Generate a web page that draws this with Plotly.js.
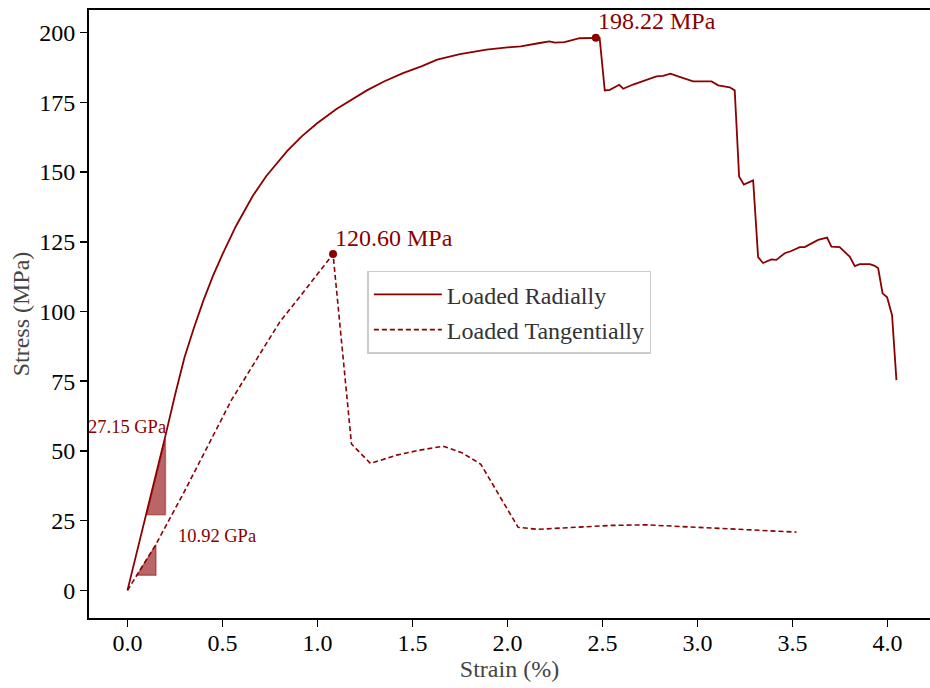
<!DOCTYPE html>
<html>
<head>
<meta charset="utf-8">
<script src="https://cdn.plot.ly/plotly-3.0.1.min.js"></script>
<style>html,body{margin:0;padding:0;background:#fff;}#chart{width:930px;height:688px;}</style>
</head>
<body>
<div id="chart"></div>
<script>
// ---- data (strain in %, stress in MPa) ----
const strainRadial = [0, 0.05, 0.10, 0.15, 0.20, 0.25, 0.30, 0.35, 0.40, 0.45, 0.50, 0.57, 0.66, 0.73, 0.84, 0.92, 1.00, 1.10, 1.26, 1.35, 1.45, 1.55, 1.63, 1.75, 1.89, 2.00, 2.07, 2.17, 2.22, 2.25, 2.30, 2.38, 2.465, 2.485, 2.512, 2.539, 2.588, 2.609, 2.661, 2.731, 2.784, 2.819, 2.858, 2.898, 2.977, 3.074, 3.109, 3.17, 3.196, 3.219, 3.244, 3.293, 3.319, 3.345, 3.389, 3.415, 3.459, 3.494, 3.538, 3.564, 3.599, 3.635, 3.682, 3.705, 3.748, 3.780, 3.801, 3.828, 3.854, 3.907, 3.933, 3.951, 3.974, 3.998, 4.024, 4.047];
const stressRadial = [0, 13.6, 27.3, 41.3, 55.5, 70, 83.5, 94.2, 104, 112.8, 120.5, 130.5, 141.5, 148.5, 157.5, 163, 167.6, 172.6, 179.3, 182.5, 185.5, 188, 190.3, 192.3, 193.9, 194.7, 195.1, 196.3, 196.9, 196.4, 196.6, 198.0, 198.22, 198.1, 179.3, 179.5, 181.3, 179.9, 181.4, 183.1, 184.3, 184.5, 185.3, 184.3, 182.5, 182.5, 181.1, 180.4, 179.3, 148.4, 145.5, 147.0, 119.5, 117.4, 118.7, 118.5, 120.9, 121.7, 123.1, 123.1, 124.5, 125.7, 126.5, 123.3, 123.1, 120.9, 119.7, 116.3, 117.0, 117.0, 116.4, 115.5, 106.5, 105.1, 98.7, 75.4];

const strainTangential = [0, 0.149, 0.30, 0.45, 0.547, 0.69, 0.802, 0.907, 1.03, 1.082, 1.179, 1.279, 1.416, 1.539, 1.661, 1.76, 1.86, 2.056, 2.16, 2.38, 2.55, 2.73, 2.91, 3.05, 3.26, 3.521];
const stressTangential = [0, 16.4, 35.5, 55.5, 68.2, 84, 96.3, 105.3, 116.1, 120.6, 52.5, 45.5, 48.5, 50.3, 51.7, 49.4, 45.2, 22.6, 21.9, 22.6, 23.3, 23.5, 22.9, 22.7, 21.8, 20.9];

const seriesNames = ["Loaded Radially", "Loaded Tangentially"];
const modulusRadial = 27.15;      // GPa
const modulusTangential = 10.92;  // GPa
const slopeStrainRadial = [0.10, 0.20];
const slopeStrainTangential = [0.05, 0.15];

const xTicks = [0, 0.5, 1, 1.5, 2, 2.5, 3, 3.5, 4];
const yTicks = [0, 25, 50, 75, 100, 125, 150, 175, 200];

// ---- derived ----
const RED = "#8B0000";
const FONT = "'Liberation Serif', 'Times New Roman', Times, serif";

function peakOf(xs, ys) {
  let k = 0;
  ys.forEach((v, i) => { if (v > ys[k]) k = i; });
  return {x: xs[k], y: ys[k]};
}
function triangle(strains, E) {
  const s0 = strains[0], s1 = strains[1];
  const y0 = E * s0 * 10, y1 = E * s1 * 10; // GPa * % -> MPa
  return {x: [s0, s1, s1, s0], y: [y0, y1, y0, y0], top: {x: s1, y: y1}};
}
const pkR = peakOf(strainRadial, stressRadial);
const pkT = peakOf(strainTangential, stressTangential);
const triR = triangle(slopeStrainRadial, modulusRadial);
const triT = triangle(slopeStrainTangential, modulusTangential);

const traces = [
  {x: strainRadial, y: stressRadial, mode: "lines", name: seriesNames[0],
   line: {color: RED, width: 1.8}, legendgroup: "a"},
  {x: strainTangential, y: stressTangential, mode: "lines", name: seriesNames[1],
   line: {color: RED, width: 1.6, dash: "5px,3px"}, legendgroup: "b"},
  {x: triR.x, y: triR.y, mode: "lines", fill: "toself", fillcolor: "rgba(139,0,0,0.6)",
   line: {color: "rgba(139,0,0,0.45)", width: 1.5}, showlegend: false, hoverinfo: "skip"},
  {x: triT.x, y: triT.y, mode: "lines", fill: "toself", fillcolor: "rgba(139,0,0,0.6)",
   line: {color: "rgba(139,0,0,0.45)", width: 1.5}, showlegend: false, hoverinfo: "skip"},
  {x: [pkR.x, pkT.x], y: [pkR.y, pkT.y], mode: "markers",
   marker: {color: RED, size: 8}, showlegend: false}
];

const layout = {
  width: 930, height: 688,
  margin: {l: 89, r: 0, t: 10, b: 70, pad: 0},
  paper_bgcolor: "#fff", plot_bgcolor: "#fff",
  font: {family: FONT, size: 24, color: "#000"},
  showlegend: true,
  legend: {
    x: 0.331, y: 0.571, xanchor: "left", yanchor: "top",
    bgcolor: "#fff", bordercolor: "#cccccc", borderwidth: 1.5,
    font: {family: FONT, size: 24, color: "#333"},
    traceorder: "grouped", tracegroupgap: 1, itemwidth: 68
  },
  xaxis: {
    range: [-0.2024, 4.2237],
    tickvals: xTicks, ticktext: xTicks.map(v => v.toFixed(1)),
    ticks: "outside", ticklen: 7, tickwidth: 1.6, tickcolor: "#000",
    showline: true, linecolor: "#000", linewidth: 2, mirror: true,
    showgrid: false, zeroline: false, ticklabelstandoff: -5,
    tickfont: {family: FONT, size: 24, color: "#000"},
    title: {text: "Strain (%)", font: {family: FONT, size: 24, color: "#444"}, standoff: 0}
  },
  yaxis: {
    range: [-9.91, 208.13],
    tickvals: yTicks,
    ticks: "outside", ticklen: 7, tickwidth: 1.6, tickcolor: "#000",
    showline: true, linecolor: "#000", linewidth: 2, mirror: false,
    showgrid: false, zeroline: false,
    tickfont: {family: FONT, size: 24, color: "#000"},
    title: {text: "Stress (MPa)", font: {family: FONT, size: 24, color: "#444"}, standoff: 3}
  },
  annotations: [
    {x: pkR.x, y: pkR.y, xref: "x", yref: "y", text: pkR.y.toFixed(2) + " MPa",
     showarrow: false, xanchor: "left", yanchor: "bottom", xshift: 0, yshift: 2,
     font: {family: FONT, size: 24, color: RED}},
    {x: pkT.x, y: pkT.y, xref: "x", yref: "y", text: pkT.y.toFixed(2) + " MPa",
     showarrow: false, xanchor: "left", yanchor: "bottom", xshift: 0, yshift: 1,
     font: {family: FONT, size: 24, color: RED}},
    {x: triR.top.x, y: triR.top.y, xref: "x", yref: "y", text: modulusRadial.toFixed(2) + " GPa",
     showarrow: false, xanchor: "right", yanchor: "middle", xshift: 3, yshift: 12,
     font: {family: FONT, size: 18.5, color: RED}},
    {x: triT.top.x, y: triT.top.y, xref: "x", yref: "y", text: modulusTangential.toFixed(2) + " GPa",
     showarrow: false, xanchor: "left", yanchor: "middle", xshift: 20, yshift: 9,
     font: {family: FONT, size: 18.5, color: RED}}
  ]
};

Plotly.newPlot("chart", traces, layout, {staticPlot: true, displayModeBar: false});
</script>
</body>
</html>
